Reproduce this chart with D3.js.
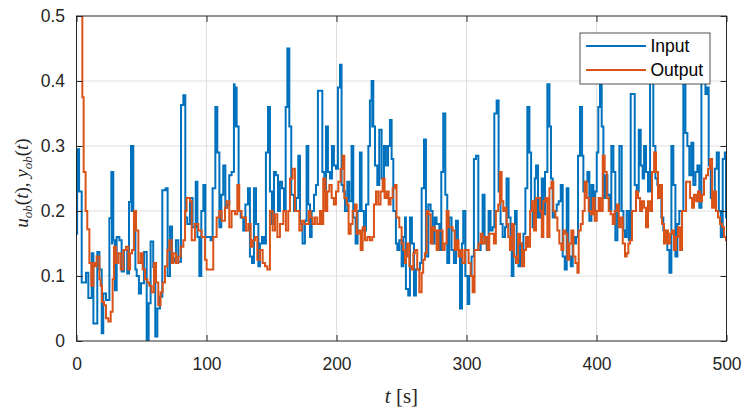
<!DOCTYPE html>
<html>
<head>
<meta charset="utf-8">
<script src="https://cdn.jsdelivr.net/npm/d3@7"></script>
<style>
  body { margin: 0; background: #fff; }
  svg { display: block; font-family: "Liberation Sans", Arial, sans-serif; }
</style>
</head>
<body>
<svg id="chart" width="755" height="413"></svg>
<script>
// Data: [time in s, value]

const xTicks = [0, 100, 200, 300, 400, 500];
const yTicks = [0, 0.1, 0.2, 0.3, 0.4, 0.5];
const seriesNames = ["Input", "Output"];
const seriesColors = ["#0072BD", "#D95319"];

const input = [
    [0,0.165],[0.5,0.295],[2,0.23],[4,0.09],[7.3,0.105],[9.1,0.066],[11.7,0.135],[13,0.027],
    [16,0.137],[17.6,0.11],[19.4,0.012],[20.6,0.073],[22.7,0.063],[25.3,0.189],[26.8,0.26],
    [27.3,0.15],[27.7,0.26],[28.3,0.155],[29.6,0.078],[30.9,0.16],[33,0.155],[34.7,0.107],
    [36.5,0.14],[39,0.104],[40.4,0.214],[41.9,0.30],[42.4,0.2],[42.8,0.3],[43.7,0.2],[45.3,0.11],
    [46.3,0.1],[48,0.073],[49.6,0.089],[51.9,0.137],[54,0.0],[55.5,0.058],[57,0.153],[59,0.114],
    [60.6,0.007],[62.2,0.05],[64.2,0.068],[66,0.232],[68.6,0.235],[70.1,0.1],[71.9,0.176],
    [73.5,0.122],[75,0.127],[76.5,0.155],[78.3,0.122],[80.4,0.363],[82.2,0.378],[83.7,0.19],
    [85.2,0.18],[87.3,0.22],[89.3,0.175],[91.7,0.245],[93,0.16],[94.5,0.1],[96,0.2],[97.6,0.24],
    [99.1,0.16],[103.2,0.155],[104.7,0.235],[106.8,0.36],[107.3,0.3],[107.7,0.36],[108.3,0.29],
    [109.9,0.175],[111.4,0.225],[112.9,0.27],[114.5,0.205],[116,0.21],[117.5,0.255],[119.3,0.26],
    [121.1,0.395],[121.6,0.33],[122.1,0.39],[123.2,0.33],[124.7,0.2],[126.3,0.19],[128.3,0.17],
    [129.9,0.21],[131.9,0.235],[133.4,0.13],[135,0.12],[136.5,0.235],[138.1,0.18],[139.9,0.115],
    [141.1,0.15],[142.7,0.16],[144.2,0.15],[145.7,0.29],[147.3,0.36],[148.8,0.23],[150.4,0.18],
    [151.9,0.26],[153.4,0.255],[155,0.2],[156.5,0.245],[158.1,0.235],[159.6,0.2],[160.9,0.36],
    [162.2,0.45],[163.7,0.33],[165.2,0.225],[167.3,0.2],[168.8,0.22],[170.6,0.285],[171.9,0.18],
    [173.9,0.15],[175.7,0.185],[177,0.3],[178.3,0.21],[179.6,0.16],[180.9,0.2],[182.7,0.225],
    [184.2,0.24],[185.7,0.385],[189.1,0.26],[190.6,0.23],[191.9,0.33],[193.4,0.26],[195,0.25],
    [196.5,0.3],[198,0.27],[199.6,0.265],[201.1,0.39],[202.7,0.425],[203.9,0.24],[205.2,0.23],
    [206.5,0.2],[208.3,0.245],[209.8,0.215],[211.6,0.3],[212.9,0.19],[214.7,0.15],[216.2,0.2],
    [218,0.29],[219.3,0.2],[221.1,0.17],[222.7,0.21],[224.5,0.3],[225.7,0.37],[227,0.4],
    [227.5,0.33],[227.9,0.4],[228.3,0.33],[229.6,0.27],[231.4,0.24],[232.9,0.325],[234.7,0.25],
    [236.5,0.3],[238,0.27],[239.6,0.3],[241.1,0.34],[242.4,0.28],[243.7,0.2],[245.7,0.15],
    [246.8,0.14],[248.3,0.155],[250.1,0.115],[251.4,0.16],[252.7,0.19],[253.4,0.08],[255.2,0.07],
    [256.5,0.19],[258,0.15],[259.6,0.07],[261.1,0.11],[264.2,0.12],[265.5,0.235],[267.3,0.31],
    [268.8,0.13],[270.6,0.21],[272.4,0.2],[273.9,0.15],[275.5,0.19],[277,0.18],[279.1,0.14],
    [280.6,0.26],[282.1,0.35],[283.7,0.225],[285.2,0.12],[286.7,0.19],[288.5,0.14],[290.3,0.12],
    [291.9,0.185],[293.4,0.14],[295,0.05],[296.5,0.15],[297.5,0.2],[299.1,0.1],[300.9,0.057],
    [302.1,0.1],[303.9,0.13],[305.7,0.28],[307.3,0.285],[309.1,0.14],[310.9,0.15],[312.4,0.225],
    [313.9,0.16],[315.5,0.14],[317,0.2],[318.5,0.17],[320.1,0.175],[321.4,0.35],[323.2,0.37],
    [324.7,0.23],[326.2,0.18],[327.8,0.16],[329.6,0.175],[330.8,0.25],[332.4,0.19],[333.9,0.15],
    [334.8,0.1],[336.1,0.18],[337.3,0.2],[338.6,0.125],[339.9,0.115],[341.2,0.15],[342.5,0.12],
    [343.8,0.165],[345.3,0.235],[346.8,0.36],[347.3,0.29],[347.7,0.36],[348.4,0.29],[349.7,0.2],
    [350.9,0.175],[352.5,0.25],[353.5,0.27],[355,0.19],[356.6,0.2],[357.9,0.25],[359.1,0.195],
    [360.4,0.26],[362.2,0.395],[363.8,0.33],[365,0.25],[366.3,0.19],[367.9,0.2],[369.4,0.21],
    [370.9,0.215],[372.5,0.24],[374,0.13],[375.6,0.11],[377.1,0.235],[378.4,0.13],[380.2,0.115],
    [381.7,0.16],[383.2,0.15],[384.3,0.16],[385.8,0.285],[387.3,0.36],[388.9,0.285],[389.9,0.23],
    [391.4,0.245],[393,0.26],[394.5,0.185],[396.1,0.24],[397.6,0.2],[398.9,0.23],[400.2,0.29],
    [401.4,0.36],[402.7,0.41],[404,0.33],[405.3,0.22],[406.8,0.255],[408.4,0.225],[409.9,0.2],
    [411.4,0.3],[413,0.26],[414.5,0.155],[416.1,0.2],[417.6,0.3],[419.4,0.2],[420.7,0.17],
    [421.9,0.16],[423.2,0.2],[424.8,0.155],[426.3,0.38],[429.4,0.24],[430.9,0.23],[432.5,0.325],
    [434,0.27],[435.5,0.25],[436.6,0.3],[438.1,0.26],[439.6,0.23],[441.2,0.4],[442.7,0.44],
    [443.7,0.3],[445.3,0.25],[446.8,0.24],[448.4,0.22],[449.9,0.19],[451.4,0.17],[453,0.155],
    [454.5,0.14],[456.1,0.105],[457.6,0.3],[459.1,0.24],[460.7,0.13],[462.2,0.18],[463.7,0.2],
    [466.8,0.44],[468.4,0.32],[469.9,0.3],[471.4,0.255],[473,0.305],[474.5,0.24],[476.1,0.26],
    [477.6,0.27],[479.1,0.205],[480.7,0.4],[482.2,0.43],[483.8,0.38],[485.3,0.39],[486.3,0.27],
    [487.9,0.22],[489.4,0.21],[491,0.265],[492.5,0.29],[494.1,0.2],[495.6,0.16],[497.1,0.28],
    [498.7,0.29],[499.6,0.19],[500,0.19]
];

const output = [
    [3,0.6],[4.5,0.375],[5.5,0.26],[7,0.2],[8.3,0.172],[9.9,0.12],[11.4,0.085],[13,0.12],
    [14.5,0.115],[15.5,0.13],[17.6,0.095],[18.6,0.085],[19.6,0.06],[21.2,0.055],[22.7,0.035],
    [24.5,0.03],[26.3,0.045],[27.8,0.095],[28.8,0.145],[30.4,0.12],[32.2,0.135],[34,0.11],
    [36,0.14],[38.1,0.145],[39.9,0.11],[41.2,0.135],[42.7,0.14],[44.2,0.2],[45.8,0.17],
    [47.6,0.12],[49.4,0.135],[50.9,0.11],[52.7,0.095],[54.5,0.09],[56,0.085],[57.8,0.075],
    [59.6,0.12],[61.2,0.09],[62.9,0.055],[64.7,0.075],[66.3,0.09],[68.1,0.115],[69.9,0.14],
    [71.4,0.155],[73.2,0.12],[74.5,0.135],[76.5,0.12],[78.3,0.13],[80.1,0.145],[82.2,0.155],
    [83.5,0.2],[84.7,0.22],[87.3,0.215],[88.6,0.155],[91.1,0.18],[93.7,0.17],[96.3,0.16],
    [98.8,0.125],[100.1,0.11],[105.2,0.16],[107.8,0.19],[109.9,0.2],[111.7,0.185],[114.2,0.205],
    [115.5,0.215],[117.5,0.175],[119.3,0.2],[121.9,0.195],[123.7,0.24],[125.2,0.2],[127,0.19],
    [130.4,0.17],[132.2,0.18],[134,0.145],[135.5,0.155],[137.3,0.16],[139.1,0.125],[141.1,0.14],
    [143.2,0.12],[145,0.115],[146.8,0.11],[148.8,0.2],[150.9,0.17],[152.7,0.195],[154.5,0.16],
    [156.5,0.18],[159.1,0.2],[161.1,0.17],[162.9,0.2],[164.2,0.25],[166.2,0.265],[168,0.2],
    [171.4,0.17],[173.2,0.185],[175,0.18],[178.6,0.2],[180.1,0.19],[181.6,0.18],[183.4,0.19],
    [185.2,0.18],[187.3,0.2],[188.6,0.18],[189.8,0.25],[191.4,0.2],[192.9,0.23],[194.5,0.24],
    [196.3,0.22],[198,0.21],[199.6,0.23],[201.4,0.245],[203.2,0.265],[204.7,0.285],[206,0.22],
    [207.8,0.21],[209.3,0.165],[210.9,0.18],[212.4,0.2],[214.2,0.21],[215.5,0.165],[217,0.17],
    [218.6,0.14],[220.1,0.175],[221.9,0.155],[223.7,0.16],[225.7,0.155],[227.5,0.16],[228.8,0.21],
    [230.4,0.23],[232.1,0.21],[233.9,0.23],[235.5,0.25],[237,0.22],[238.6,0.23],[240.1,0.21],
    [241.6,0.22],[243.2,0.235],[245,0.24],[246.2,0.19],[248.3,0.175],[250.1,0.15],[251.4,0.14],
    [252.7,0.12],[253.4,0.13],[254.4,0.15],[256,0.115],[257.8,0.11],[259.1,0.135],[260.3,0.14],
    [262.1,0.11],[263.7,0.075],[265.5,0.105],[266.7,0.125],[268,0.135],[269.3,0.2],[270.8,0.195],
    [272.4,0.15],[273.9,0.175],[275.5,0.17],[277,0.14],[278.5,0.17],[281.6,0.14],[283.2,0.15],
    [284.7,0.2],[286.2,0.175],[289.3,0.17],[290.9,0.14],[292.4,0.155],[293.9,0.13],[295.5,0.14],
    [297,0.12],[298.8,0.14],[301.6,0.12],[303.2,0.1],[304.7,0.075],[306.2,0.14],[309.3,0.15],
    [310.9,0.165],[312.4,0.15],[314.2,0.16],[316,0.14],[317.5,0.165],[321.1,0.15],[322.6,0.2],
    [324.4,0.21],[325.7,0.26],[327,0.215],[328.3,0.2],[329.6,0.205],[330.8,0.18],[332.1,0.16],
    [333.4,0.14],[334.9,0.18],[336.5,0.13],[338.1,0.12],[339.7,0.165],[341.2,0.15],[342.7,0.115],
    [344.3,0.14],[345.8,0.16],[347.3,0.145],[348.9,0.2],[350.4,0.215],[352,0.17],[353.5,0.22],
    [356.6,0.2],[357.9,0.16],[359.1,0.215],[360.7,0.22],[362.2,0.16],[363.8,0.235],[365.3,0.245],
    [366.8,0.2],[368.4,0.19],[369.9,0.17],[371.4,0.15],[373,0.14],[374.5,0.17],[376.1,0.165],
    [377.6,0.125],[379.1,0.15],[380.7,0.17],[382.2,0.13],[383.8,0.12],[385.3,0.105],[386.3,0.17],
    [387.9,0.18],[389.4,0.2],[390.9,0.245],[392.5,0.22],[394,0.2],[395.6,0.195],[397.1,0.22],
    [398.6,0.185],[400.2,0.2],[401.7,0.22],[403.2,0.2],[404.8,0.285],[406.3,0.26],[407.9,0.22],
    [409.4,0.2],[410.9,0.195],[412.5,0.18],[414,0.2],[415.6,0.21],[417.1,0.175],[418.6,0.19],
    [420.2,0.15],[421.9,0.13],[423.2,0.135],[424.5,0.15],[425.8,0.155],[427.3,0.2],[430.4,0.23],
    [431.9,0.22],[433.5,0.2],[435,0.215],[436.6,0.205],[438.1,0.175],[439.6,0.215],[441.2,0.2],
    [442.7,0.26],[444.3,0.29],[445.8,0.26],[447.3,0.22],[448.9,0.24],[450.4,0.18],[451.9,0.15],
    [453.5,0.17],[455,0.15],[456.6,0.165],[458.1,0.17],[459.6,0.14],[461.2,0.16],[462.7,0.175],
    [464.3,0.14],[465.8,0.2],[468.9,0.245],[472,0.22],[473.5,0.205],[475,0.225],[476.6,0.215],
    [478.1,0.23],[479.6,0.215],[481.2,0.225],[482.7,0.25],[484.3,0.255],[485.8,0.265],[487.3,0.28],
    [488.9,0.205],[490.4,0.23],[491.9,0.2],[493.5,0.19],[495,0.18],[496.6,0.175],[498.1,0.16],
    [499.6,0.155],[500,0.155]
];

// Layout

const m = { left: 76.5, right: 726.5, top: 16, bottom: 341 };

const svg = d3.select("#chart");

const x = d3.scaleLinear().domain([0, 500]).range([m.left, m.right]);
const y = d3.scaleLinear().domain([0, 0.5]).range([m.bottom, m.top]);

svg.append("defs").append("clipPath")
    .attr("id", "plot-clip")
    .append("rect")
    .attr("x", m.left).attr("y", m.top)
    .attr("width", m.right - m.left).attr("height", m.bottom - m.top);

// Grid

const grid = svg.append("g").attr("stroke", "#dfdfdf").attr("stroke-width", 1);

grid.selectAll(".gx")
    .data(xTicks.slice(1, -1))
    .join("line")
    .attr("x1", d => x(d)).attr("x2", d => x(d))
    .attr("y1", m.top).attr("y2", m.bottom);

grid.selectAll(".gy")
    .data(yTicks.slice(1, -1))
    .join("line")
    .attr("y1", d => y(d)).attr("y2", d => y(d))
    .attr("x1", m.left).attr("x2", m.right);

// Lines

const line = d3.line()
    .x(d => x(d[0]))
    .y(d => y(d[1]))
    .curve(d3.curveStepAfter);

const lines = svg.append("g").attr("clip-path", "url(#plot-clip)");

[input, output].forEach((data, i) => {
    lines.append("path")
        .datum(data)
        .attr("fill", "none")
        .attr("stroke", seriesColors[i])
        .attr("stroke-width", 2)
        .attr("stroke-linejoin", "miter")
        .attr("d", line);
});

// Axes (ticks point inward, box on)

const tickLen = 6;
const axisColor = "#262626";

svg.append("g")
    .attr("transform", `translate(0,${m.bottom})`)
    .call(d3.axisBottom(x).tickValues(xTicks).tickSize(-tickLen).tickPadding(17).tickSizeOuter(0))
    .call(g => g.select(".domain").remove());

svg.append("g")
    .attr("transform", `translate(0,${m.top})`)
    .call(d3.axisTop(x).tickValues(xTicks).tickSize(-tickLen).tickFormat("").tickSizeOuter(0))
    .call(g => g.select(".domain").remove());

svg.append("g")
    .attr("transform", `translate(${m.left},0)`)
    .call(d3.axisLeft(y).tickValues(yTicks).tickSize(-tickLen).tickPadding(11.5)
        .tickFormat(d => d === 0 ? "0" : d3.format(".1f")(d)).tickSizeOuter(0))
    .call(g => g.select(".domain").remove());

svg.append("g")
    .attr("transform", `translate(${m.right},0)`)
    .call(d3.axisRight(y).tickValues(yTicks).tickSize(-tickLen).tickFormat("").tickSizeOuter(0))
    .call(g => g.select(".domain").remove());

svg.selectAll(".tick line").attr("stroke", axisColor);
svg.selectAll(".tick text")
    .attr("fill", "#262626")
    .style("font-family", "'Liberation Sans', Arial, sans-serif")
    .style("font-size", "17.5px");

svg.append("rect")
    .attr("x", m.left).attr("y", m.top)
    .attr("width", m.right - m.left).attr("height", m.bottom - m.top)
    .attr("fill", "none")
    .attr("stroke", axisColor)
    .attr("stroke-width", 1);

// Axis labels

const xLabel = svg.append("text")
    .attr("x", (m.left + m.right) / 2)
    .attr("y", 403)
    .attr("text-anchor", "middle")
    .style("font-family", "'Liberation Serif', 'DejaVu Serif', serif")
    .style("font-size", "21px")
    .attr("fill", "#262626");
xLabel.append("tspan").style("font-style", "italic").text("t");
xLabel.append("tspan").text(" [s]");

const yLabel = svg.append("text")
    .attr("transform", "translate(28,183) rotate(-90)")
    .attr("text-anchor", "middle")
    .style("font-family", "'Liberation Serif', 'DejaVu Serif', serif")
    .style("font-size", "19px")
    .attr("fill", "#262626");
yLabel.append("tspan").style("font-style", "italic").text("u");
yLabel.append("tspan").style("font-style", "italic").style("font-size", "13px").attr("dy", 4).text("ob");
yLabel.append("tspan").attr("dy", -4).text("(");
yLabel.append("tspan").style("font-style", "italic").text("t");
yLabel.append("tspan").text("), ");
yLabel.append("tspan").style("font-style", "italic").text("y");
yLabel.append("tspan").style("font-style", "italic").style("font-size", "13px").attr("dy", 4).text("ob");
yLabel.append("tspan").attr("dy", -4).text("(");
yLabel.append("tspan").style("font-style", "italic").text("t");
yLabel.append("tspan").text(")");

// Legend

const legend = svg.append("g").attr("transform", "translate(580,33)");

legend.append("rect")
    .attr("width", 130).attr("height", 51)
    .attr("fill", "#fff")
    .attr("stroke", axisColor)
    .attr("stroke-width", 0.8);

seriesNames.forEach((name, i) => {
    const item = legend.append("g").attr("transform", `translate(0,${13 + i * 24})`);
    item.append("line")
        .attr("x1", 6).attr("x2", 66)
        .attr("stroke", seriesColors[i])
        .attr("stroke-width", 2);
    item.append("text")
        .attr("x", 70.5)
        .attr("dy", "0.35em")
        .attr("fill", "#000")
        .style("font-size", "17.5px")
        .text(name);
});
</script>
</body>
</html>
